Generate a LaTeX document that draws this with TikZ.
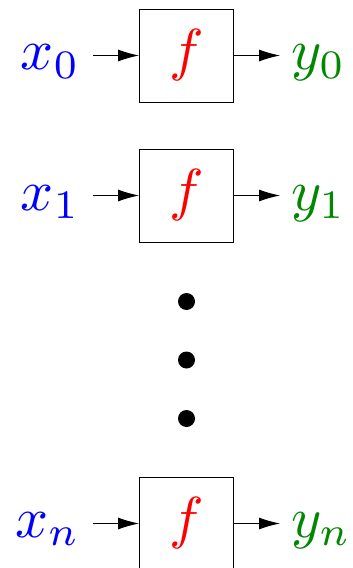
\documentclass[tikz,border=0pt]{standalone}
\usepackage{graphicx}
\usetikzlibrary{arrows.meta}
\definecolor{ygreen}{RGB}{0,136,0}
\newcommand{\hugemath}[1]{\scalebox{5.8}{$#1$}}
\begin{document}
\begin{tikzpicture}[x=1bp,y=-1bp,
  fbox/.style={draw, line width=0.9bp, minimum width=94bp, minimum height=93bp, inner sep=0pt, text=red},
  lab/.style={inner sep=0pt},
  arr/.style={line width=0.9bp, -{Latex[length=21bp,width=12bp]}},
  dot/.style={circle, fill=black, inner sep=0pt, minimum size=17bp}]
\useasboundingbox (0,0) rectangle (352,568);
\node[fbox] (f0) at (186.5,55.5) {\hugemath{f}};
\node[fbox] (f1) at (186.5,195.5) {\hugemath{f}};
\node[fbox] (fn) at (186.5,523.5) {\hugemath{f}};
\node[lab, anchor=base east, text=blue] (x0) at (80,70) {\hugemath{x_0}};
\node[lab, anchor=base east, text=blue] (x1) at (80,210) {\hugemath{x_1}};
\node[lab, anchor=base east, text=blue] (xn) at (80,537) {\hugemath{x_n}};
\node[lab, anchor=base west, text=ygreen] (y0) at (291,70) {\hugemath{y_0}};
\node[lab, anchor=base west, text=ygreen] (y1) at (291,210) {\hugemath{y_1}};
\node[lab, anchor=base west, text=ygreen] (yn) at (291,537) {\hugemath{y_n}};
\coordinate (a0) at (93,55.5);
\coordinate (a1) at (93,195.5);
\coordinate (an) at (93,523.5);
\coordinate (b0) at (280,55.5);
\coordinate (b1) at (280,195.5);
\coordinate (bn) at (280,523.5);
\draw[arr] (a0) -- (f0.west);
\draw[arr] (a1) -- (f1.west);
\draw[arr] (an) -- (fn.west);
\draw[arr] (f0.east) -- (b0);
\draw[arr] (f1.east) -- (b1);
\draw[arr] (fn.east) -- (bn);
\node[dot] (d1) at (186.5,301.5) {};
\node[dot] (d2) at (186.5,360) {};
\node[dot] (d3) at (186.5,418.5) {};
\end{tikzpicture}
\end{document}
